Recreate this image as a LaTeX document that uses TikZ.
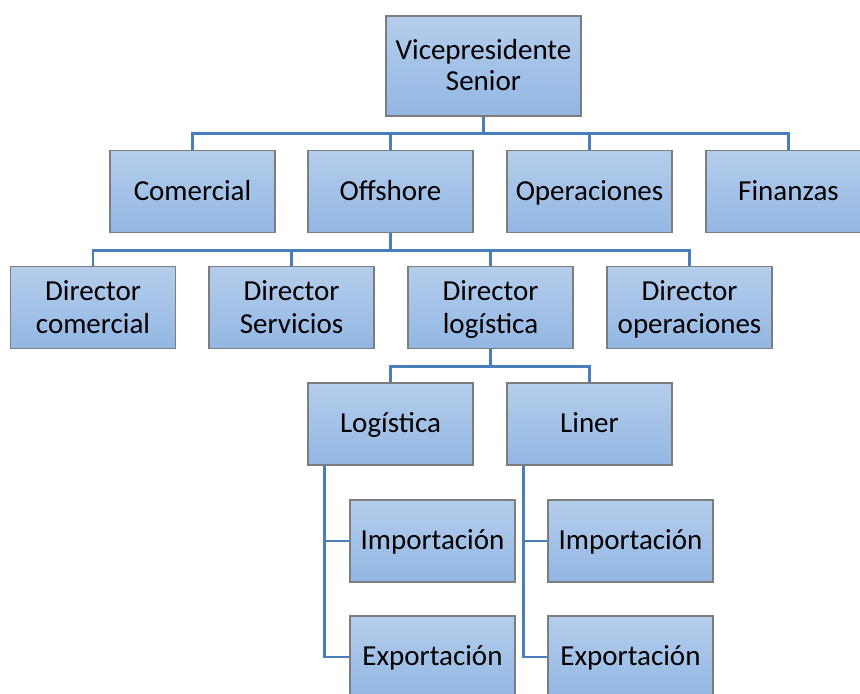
\documentclass[tikz,border=0pt]{standalone}
\usepackage{fontspec}
\setmainfont{Carlito}
\usepackage{xcolor}
\usepackage{tikz}
\usetikzlibrary{calc}
\definecolor{boxtop}{RGB}{181,205,236}
\definecolor{boxbot}{RGB}{146,183,227}
\definecolor{boxline}{RGB}{125,125,125}
\definecolor{linkblue}{RGB}{74,126,187}
\newcommand{\boxtext}[3][14pt]{\begin{tabular}{@{}c@{}}\rule{0pt}{#1}#2\\#3\end{tabular}}

\begin{document}
\begin{tikzpicture}[x=0.5pt, y=-0.5pt,
    every node/.style={rectangle, draw=boxline, line width=0.7pt, top color=boxtop, bottom color=boxbot,
        minimum width=82.5pt, minimum height=41pt, inner sep=0pt, align=center,
        font=\fontsize{14.5}{16.5}\selectfont,
        execute at begin node={\rule{0pt}{12.5pt}},
        execute at end node={\rule[-4pt]{0pt}{4pt}}},
    link/.style={draw=linkblue, line width=1.3pt}]
    \useasboundingbox (0,0) rectangle (860,693);
    \node[minimum width=97.5pt, minimum height=50pt, font=\fontsize{14.5}{15.5}\selectfont] (vp) at (483.5,66) {\boxtext[13.5pt]{Vicepresidente}{Senior}};
    \node (com) at (192.5,191.5) {Comercial};
    \node (off) at (390.5,191.5) {Offshore};
    \node (ope) at (589.5,191.5) {Operaciones};
    \node (fin) at (788.5,191.5) {Finanzas};
    \node (dcom) at (93,307.5) {\boxtext{Director}{comercial}};
    \node (dser) at (291.5,307.5) {\boxtext{Director}{Servicios}};
    \node (dlog) at (490.5,307.5) {\boxtext{Director}{logística}};
    \node (dop) at (689.5,307.5) {\boxtext{Director}{operaciones}};
    \node (log) at (390.5,424) {Logística};
    \node (lin) at (589.5,424) {Liner};
    \node (imp1) at (432.5,541) {Importación};
    \node (exp1) at (432.5,657) {Exportación};
    \node (imp2) at (630.5,541) {Importación};
    \node (exp2) at (630.5,657) {Exportación};

    \draw[link] (vp.south) -- ++(0,17) -| (com.north);
    \draw[link] (vp.south) -- ++(0,17) -| (off.north);
    \draw[link] (vp.south) -- ++(0,17) -| (ope.north);
    \draw[link] (vp.south) -- ++(0,17) -| (fin.north);
    \draw[link] (off.south) -- ++(0,17) -| (dcom.north);
    \draw[link] (off.south) -- ++(0,17) -| (dser.north);
    \draw[link] (off.south) -- ++(0,17) -| (dlog.north);
    \draw[link] (off.south) -- ++(0,17) -| (dop.north);
    \draw[link] (dlog.south) -- ++(0,17) -| (log.north);
    \draw[link] (dlog.south) -- ++(0,17) -| (lin.north);
    \draw[link] ($(log.south west)+(17,0)$) |- (imp1.west);
    \draw[link] ($(log.south west)+(17,0)$) |- (exp1.west);
    \draw[link] ($(lin.south west)+(17,0)$) |- (imp2.west);
    \draw[link] ($(lin.south west)+(17,0)$) |- (exp2.west);
\end{tikzpicture}
\end{document}
